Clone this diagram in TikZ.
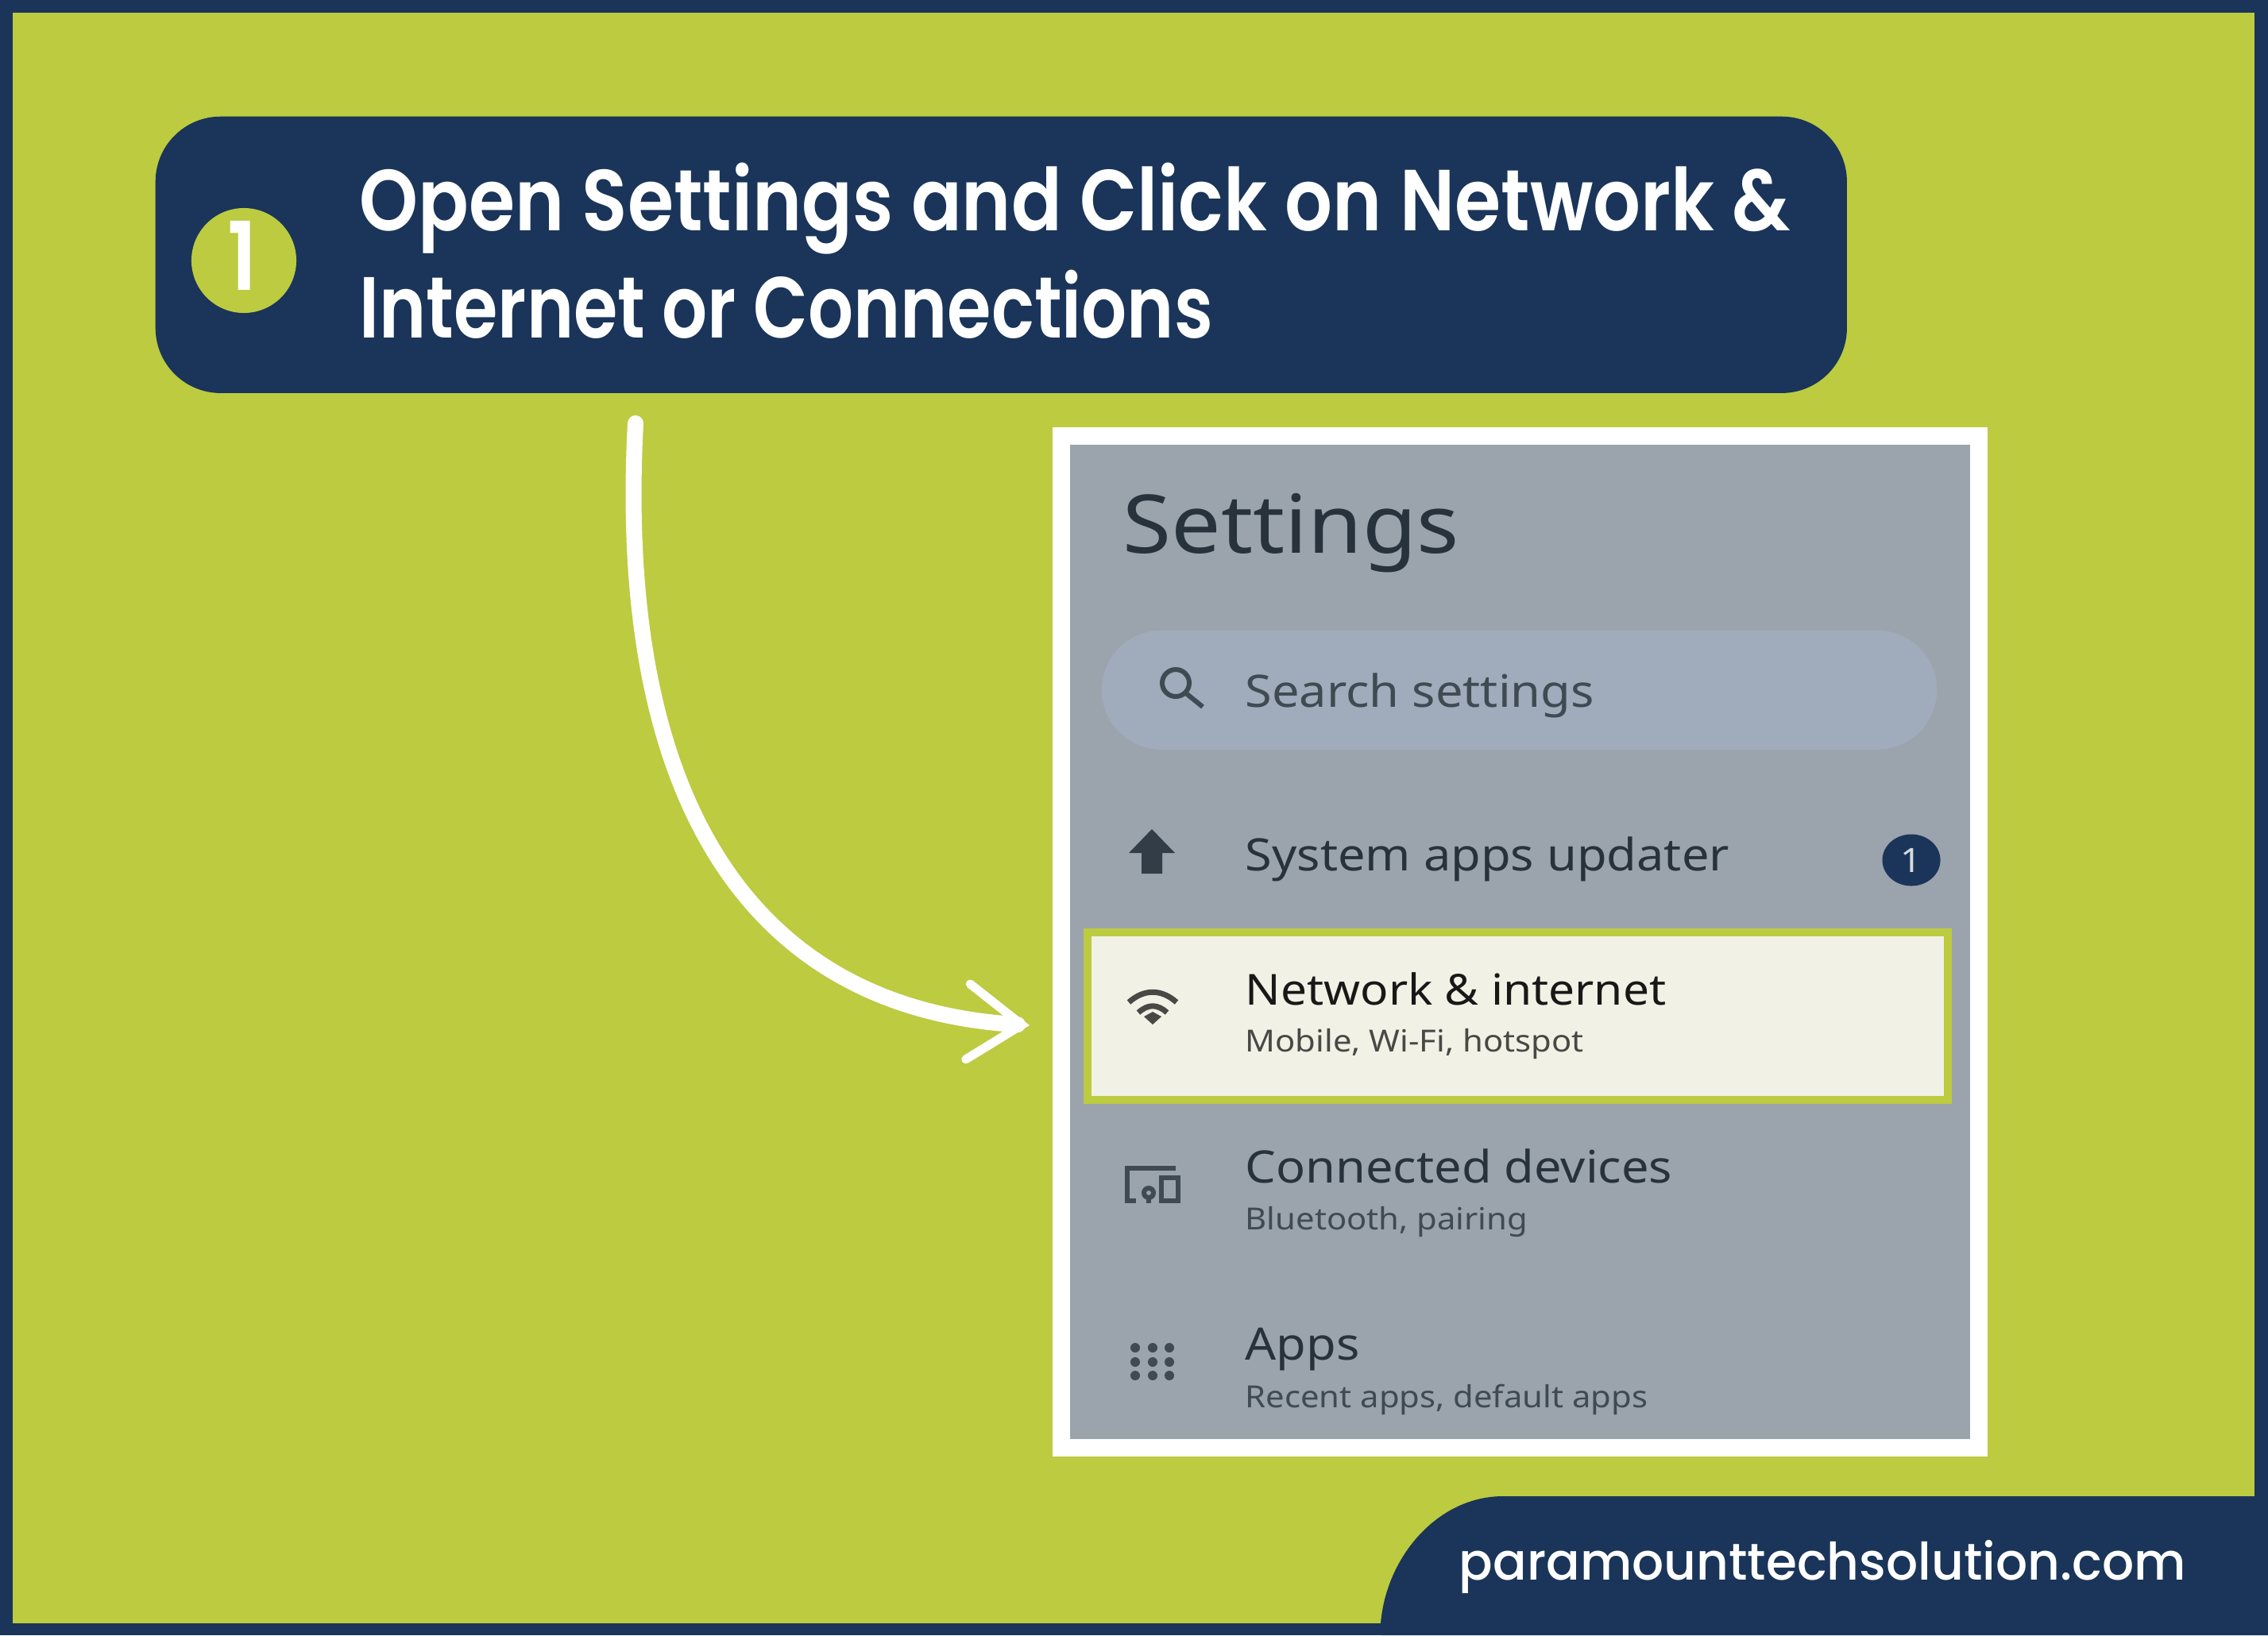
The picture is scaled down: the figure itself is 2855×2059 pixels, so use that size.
\documentclass[tikz,border=0pt]{standalone}
\usepackage{fontspec}
\usetikzlibrary{arrows.meta,shapes.geometric}
\newfontfamily\headfont[FakeStretch=0.863]{Poppins SemiBold}
\newfontfamily\secondfont[FakeStretch=0.822]{Poppins SemiBold}
\newfontfamily\footfont[FakeStretch=0.968]{Poppins Medium}
\newfontfamily\androidfont[FakeStretch=1.09]{Noto Sans}
\definecolor{navy}{HTML}{1A3559}
\definecolor{lime}{HTML}{BCCB40}
\definecolor{panel}{HTML}{9BA3AD}
\definecolor{pill}{HTML}{A0ABBB}
\definecolor{cream}{HTML}{F2F1E6}
\definecolor{inkdark}{HTML}{27323C}
\definecolor{inkgrey}{HTML}{3F4A52}
\tikzset{
  headtext/.style={anchor=base west,inner sep=0pt,text=white,font=\headfont\fontsize{31}{31}\selectfont},
  apptext/.style={anchor=base west,inner sep=0pt,text=inkdark,font=\androidfont\fontsize{16}{16}\selectfont},
  subtext/.style={anchor=base west,inner sep=0pt,text=inkgrey,font=\androidfont\fontsize{10.9}{10.9}\selectfont}
}
\begin{document}
\begin{tikzpicture}[x=0.01cm,y=-0.01cm]
    % frame and background
    \fill[navy] (0,0) rectangle (2855,2059);
    \fill[lime] (16,16) rectangle (2838,2044);
    % heading
    \node[fill=navy,rounded corners=0.82cm,inner sep=0pt,minimum width=21.28cm,minimum height=3.48cm,anchor=north west] (heading) at (195,146) {};
    \node[circle,fill=lime,inner sep=0pt,minimum size=1.32cm] (stepdot) at (307,328) {};
    \node[anchor=base,inner sep=0pt,text=white,font=\headfont\fontsize{34}{34}\selectfont] (stepnum) at (305,365) {1};
    \node[headtext] (lineone) at (452,290) {Open Settings and Click on Network \&};
    \node[headtext,font=\secondfont\fontsize{31}{31}\selectfont] (linetwo) at (452,425) {Internet or Connections};
    % screenshot
    \fill[white] (1325,538) rectangle (2502,1834);
    \fill[panel] (1347,560) rectangle (2480,1812);
    \node[anchor=base west,inner sep=0pt,text=inkdark,font=\androidfont\fontsize{29}{29}\selectfont] (title) at (1413,696) {Settings};
    \node[fill=pill,rounded corners=0.75cm,inner sep=0pt,minimum width=10.51cm,minimum height=1.5cm,anchor=north west] (searchbar) at (1386,793) {};
    \draw[inkgrey,line width=0.06cm] (1480,860) circle (17);
    \draw[inkgrey,line width=0.06cm] (1493,873) -- (1514,890);
    \node[apptext,text=inkgrey] (searchtext) at (1567,890) {Search settings};
    % updater row
    \fill[inkdark!90!panel] (1450,1044) -- (1479,1074) -- (1463,1074) -- (1463,1100) -- (1437,1100) -- (1437,1074) -- (1421,1074) -- cycle;
    \node[apptext] (updater) at (1567,1096) {System apps updater};
    \node[ellipse,fill=navy,inner sep=0pt,minimum width=0.73cm,minimum height=0.65cm] (badge) at (2406,1083) {};
    \node[text=panel!40!white,inner sep=0pt,font=\androidfont\fontsize{12}{12}\selectfont] (badgenum) at (2406,1083) {1};
    % network row
    \node[fill=cream,draw=lime,line width=0.1cm,inner sep=0pt,minimum width=10.82cm,minimum height=2.11cm,anchor=north west] (netrow) at (1364,1169) {};
    \draw[black!70!cream,line width=0.07cm] (1421,1262) .. controls (1440,1245) and (1462,1245) .. (1481,1262);
    \draw[black!70!cream,line width=0.07cm] (1433,1275) .. controls (1445,1264) and (1457,1264) .. (1469,1275);
    \fill[black!70!cream] (1451,1290) -- (1440,1280) -- (1451,1274) -- (1462,1280) -- cycle;
    \node[apptext,text=black!90!cream,font=\androidfont\fontsize{15.3}{15.3}\selectfont] (network) at (1567,1265) {Network \& internet};
    \node[subtext,text=black!70!cream] (networksub) at (1567,1324) {Mobile, Wi-Fi, hotspot};
    % devices row
    \draw[inkgrey,line width=0.06cm] (1480,1471) -- (1419,1471) -- (1419,1512) -- (1430,1512);
    \draw[inkgrey,line width=0.06cm] (1446,1502) circle (6);
    \draw[inkgrey,line width=0.06cm] (1446,1508) -- (1446,1515);
    \draw[inkgrey,line width=0.06cm] (1462,1483) rectangle (1483,1512);
    \node[apptext] (devices) at (1567,1489) {Connected devices};
    \node[subtext] (devicessub) at (1567,1548) {Bluetooth, pairing};
    % apps row
    \fill[inkgrey] (1429,1697) circle (6);
    \fill[inkgrey] (1451,1697) circle (6);
    \fill[inkgrey] (1472,1697) circle (6);
    \fill[inkgrey] (1429,1715) circle (6);
    \fill[inkgrey] (1451,1715) circle (6);
    \fill[inkgrey] (1472,1715) circle (6);
    \fill[inkgrey] (1429,1732) circle (6);
    \fill[inkgrey] (1451,1732) circle (6);
    \fill[inkgrey] (1472,1732) circle (6);
    \node[apptext] (apps) at (1567,1712) {Apps};
    \node[subtext] (appssub) at (1567,1772) {Recent apps, default apps};
    % arrow
    \coordinate (arrowstart) at (800,533);
    \coordinate (arrowend) at (1296,1291);
    \draw[white,line width=0.2cm,line cap=round,-{Straight Barb[length=0.68cm,width=0.95cm,line width=0.11cm,line cap=round]}] (arrowstart) .. controls (775,1000) and (940,1270) .. (arrowend);
    % footer
    \fill[navy] (1738,2059) -- (1738,2044) .. controls (1745,1960) and (1810,1884) .. (1892,1884) -- (2855,1884) -- (2855,2059) -- cycle;
    \node[anchor=base west,inner sep=0pt,text=white,font=\footfont\fontsize{18.5}{18.5}\selectfont] (website) at (1836,1989) {paramounttechsolution.com};
\end{tikzpicture}
\end{document}
